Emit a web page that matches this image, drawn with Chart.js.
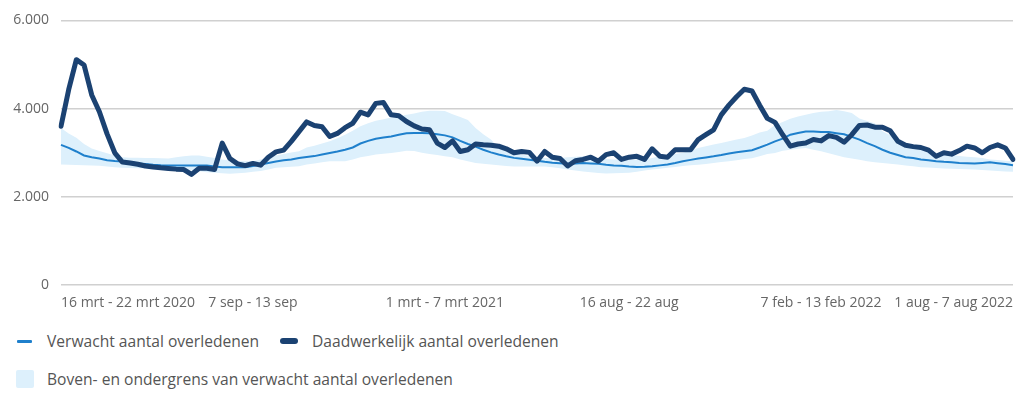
<!DOCTYPE html>
<html lang="nl">
<head>
<meta charset="utf-8">
<title>Sterfte per week</title>
<script src="https://cdn.jsdelivr.net/npm/chart.js@4.4.1/dist/chart.umd.min.js"></script>
<style>
  html, body { margin: 0; padding: 0; background: #fff; }
  body { width: 1024px; height: 402px; position: relative; overflow: hidden; font-family: "Open Sans", "Noto Sans", sans-serif; }
  #wrap { position: absolute; left: 0; top: 0; width: 1024px; height: 320px; }
  .legend { position: absolute; left: 0; color: #555; font-size: 15.6px; line-height: 20px; white-space: nowrap; }
  .legend span { position: absolute; }
  .mark { display: block; }
</style>
</head>
<body>
<div id="wrap"><canvas id="chart"></canvas></div>
<div id="legend"></div>

<script>
// --------------------------
// data (weken 16 mrt 2020 t/m 1 aug 2022)
// --------------------------
const monthNames = ['jan', 'feb', 'mrt', 'apr', 'mei', 'jun', 'jul', 'aug', 'sep', 'okt', 'nov', 'dec'];

// categorieen: één label per week
const weeks = [];
for (let i = 0; i < 125; i++) {
  const a = new Date(2020, 2, 16 + i * 7);
  const b = new Date(2020, 2, 22 + i * 7);
  weeks.push(`${a.getDate()} ${monthNames[a.getMonth()]} - ${b.getDate()} ${monthNames[b.getMonth()]} ${b.getFullYear()}`);
}

// labels die op de x-as staan
const tickIndex = [0, 25, 50, 74, 99, 124];
const tickText = ['16 mrt - 22 mrt 2020', '7 sep - 13 sep', '1 mrt - 7 mrt 2021', '16 aug - 22 aug', '7 feb - 13 feb 2022', '1 aug - 7 aug 2022'];

const yTicks = [0, 2000, 4000, 6000];

const actual = [
  3600, 4430, 5110, 4990, 4310, 3930, 3430, 3000, 2790, 2770,
  2740, 2700, 2680, 2660, 2645, 2630, 2620, 2510, 2650, 2650,
  2620, 3220, 2870, 2750, 2710, 2760, 2720, 2900, 3020, 3060,
  3260, 3480, 3700, 3620, 3590, 3370, 3440, 3570, 3670, 3920,
  3860, 4120, 4140, 3860, 3840, 3710, 3610, 3540, 3520, 3220,
  3120, 3270, 3030, 3070, 3200, 3180, 3170, 3150, 3090, 3000,
  3030, 3010, 2810, 3030, 2900, 2870, 2700, 2820, 2850, 2900,
  2810, 2960, 3000, 2850, 2900, 2920, 2850, 3090, 2920, 2900,
  3070, 3070, 3070, 3300, 3410, 3520, 3860, 4080, 4270, 4440,
  4400, 4080, 3780, 3690, 3410, 3150, 3200, 3220, 3300, 3270,
  3390, 3350, 3240, 3410, 3620, 3630, 3580, 3580, 3500, 3260,
  3170, 3140, 3120, 3060, 2920, 3000, 2970, 3050, 3150, 3110,
  3000, 3120, 3180, 3110, 2850
];

const expected = [
  3180, 3110, 3030, 2940, 2900, 2870, 2830, 2815, 2805, 2790,
  2760, 2745, 2730, 2720, 2715, 2712, 2710, 2710, 2710, 2710,
  2690, 2675, 2672, 2672, 2675, 2700, 2735, 2770, 2805, 2830,
  2850, 2880, 2905, 2925, 2960, 2995, 3030, 3070, 3120, 3210,
  3270, 3320, 3345, 3370, 3410, 3445, 3450, 3450, 3445, 3420,
  3395, 3350, 3270, 3200, 3140, 3070, 3010, 2960, 2920, 2885,
  2865, 2845, 2820, 2795, 2775, 2765, 2750, 2760, 2770, 2760,
  2750, 2730, 2715, 2705, 2690, 2680, 2685, 2695, 2715, 2735,
  2770, 2810, 2840, 2870, 2895, 2920, 2950, 2985, 3010, 3035,
  3060, 3120, 3185, 3260, 3320, 3410, 3450, 3485, 3480, 3470,
  3470, 3445, 3420, 3360, 3300, 3220, 3150, 3070, 3000, 2950,
  2900, 2880, 2850, 2830, 2810, 2795, 2785, 2770, 2765, 2755,
  2770, 2785, 2765, 2745, 2720
];

const upper = [
  3560, 3440, 3340, 3200, 3100, 3040, 2990, 2940, 2900, 2890,
  2890, 2885, 2885, 2878, 2870, 2900, 2920, 2940, 2940, 2910,
  2885, 2850, 2825, 2815, 2810, 2810, 2850, 2900, 2940, 2975,
  3005, 3035, 3120, 3160, 3210, 3260, 3330, 3410, 3500, 3600,
  3670, 3725, 3760, 3800, 3830, 3860, 3890, 3930, 3950, 3950,
  3945, 3875, 3810, 3745, 3560, 3420, 3300, 3110, 3050, 3000,
  2960, 2930, 2900, 2885, 2870, 2885, 2900, 2910, 2920, 2895,
  2870, 2860, 2850, 2846, 2846, 2846, 2846, 2880, 2920, 2950,
  2975, 3000, 3050, 3110, 3150, 3190, 3220, 3260, 3300, 3335,
  3390, 3460, 3500, 3630, 3700, 3770, 3820, 3860, 3900, 3930,
  3940, 3970, 3940, 3900, 3780, 3720, 3670, 3490, 3400, 3300,
  3220, 3150, 3090, 3035, 3000, 2965, 2945, 2925, 2910, 2900,
  2880, 2850, 2835, 2820, 2810
];

const lower = [
  2735, 2730, 2725, 2720, 2715, 2705, 2690, 2670, 2660, 2655,
  2650, 2648, 2644, 2635, 2630, 2625, 2622, 2600, 2580, 2560,
  2546, 2535, 2524, 2535, 2550, 2568, 2590, 2620, 2659, 2670,
  2685, 2696, 2734, 2760, 2785, 2809, 2809, 2809, 2850, 2899,
  2930, 2959, 2980, 2995, 3020, 3049, 3040, 3000, 2973, 2950,
  2921, 2900, 2846, 2810, 2771, 2750, 2734, 2720, 2700, 2690,
  2690, 2690, 2690, 2690, 2674, 2650, 2622, 2600, 2575, 2561,
  2545, 2532, 2535, 2540, 2546, 2570, 2600, 2622, 2640, 2659,
  2680, 2700, 2719, 2730, 2749, 2770, 2790, 2809, 2830, 2860,
  2875, 2920, 2973, 2995, 3049, 3070, 3090, 3108, 3070, 3033,
  2990, 2943, 2900, 2869, 2840, 2810, 2786, 2770, 2750, 2734,
  2715, 2695, 2674, 2665, 2655, 2644, 2640, 2632, 2628, 2622,
  2610, 2598, 2585, 2575, 2568
];

const colActual = '#1b4272';
const colExpected = '#1f80cc';
const colBand = '#ddf0fc';

// --------------------------
// grafiek
// --------------------------
function fmt(v) {
  return String(v).replace(/\B(?=(\d{3})+(?!\d))/g, '.');
}

const ctx = document.getElementById('chart').getContext('2d');
const chart = new Chart(ctx, {
  type: 'line',
  data: {
    labels: weeks,
    datasets: [
      {
        label: 'Daadwerkelijk aantal overledenen',
        data: actual,
        borderColor: colActual,
        borderWidth: 5,
        borderJoinStyle: 'round',
        borderCapStyle: 'round',
        pointRadius: 0,
        tension: 0,
        fill: false
      },
      {
        label: 'Verwacht aantal overledenen',
        data: expected,
        borderColor: colExpected,
        borderWidth: 2,
        pointRadius: 0,
        tension: 0,
        fill: false
      },
      {
        label: 'Bovengrens',
        data: upper,
        borderWidth: 0,
        borderColor: 'rgba(0,0,0,0)',
        pointRadius: 0,
        tension: 0,
        fill: false
      },
      {
        label: 'Boven- en ondergrens van verwacht aantal overledenen',
        data: lower,
        borderWidth: 0,
        borderColor: 'rgba(0,0,0,0)',
        backgroundColor: colBand,
        pointRadius: 0,
        tension: 0,
        fill: '-1'
      }
    ]
  },
  options: {
    responsive: true,
    maintainAspectRatio: false,
    animation: false,
    layout: { padding: { left: 0, right: 11, top: 16, bottom: 0 } },
    plugins: {
      legend: { display: false },
      tooltip: { enabled: false }
    },
    scales: {
      x: {
        grid: { display: false, drawTicks: false },
        border: { display: false },
        afterBuildTicks: axis => { axis.ticks = tickIndex.map(v => ({ value: v })); },
        ticks: {
          autoSkip: false,
          maxRotation: 0,
          align: 'inner',
          padding: 9,
          color: '#666',
          font: { family: '"Open Sans", "Noto Sans", sans-serif', size: 14 },
          callback: v => tickText[tickIndex.indexOf(v)]
        }
      },
      y: {
        min: 0,
        max: 6000,
        afterBuildTicks: axis => { axis.ticks = yTicks.map(v => ({ value: v })); },
        afterFit: axis => { axis.width = 61; },
        grid: { color: '#d0d0d0', lineWidth: 1.5, drawTicks: false },
        border: { display: false },
        ticks: {
          padding: 12,
          color: '#666',
          font: { family: '"Open Sans", "Noto Sans", sans-serif', size: 14 },
          callback: v => fmt(v)
        }
      }
    }
  }
});

// --------------------------
// legenda
// --------------------------
const legendItems = [
  { text: 'Verwacht aantal overledenen', x: 47, y: 341, mark: { x: 17, w: 15, h: 3, r: 1, c: colExpected } },
  { text: 'Daadwerkelijk aantal overledenen', x: 312, y: 341, mark: { x: 280, w: 18, h: 6, r: 3, c: colActual } },
  { text: 'Boven- en ondergrens van verwacht aantal overledenen', x: 47, y: 379, mark: { x: 16, w: 18, h: 18, r: 2, c: colBand } }
];

const legendDiv = document.getElementById('legend');
legendItems.forEach(item => {
  const row = document.createElement('div');
  row.className = 'legend';
  row.style.top = (item.y - 10) + 'px';
  const m = document.createElement('span');
  m.className = 'mark';
  m.style.left = item.mark.x + 'px';
  m.style.top = (10 - item.mark.h / 2) + 'px';
  m.style.width = item.mark.w + 'px';
  m.style.height = item.mark.h + 'px';
  m.style.borderRadius = item.mark.r + 'px';
  m.style.background = item.mark.c;
  const t = document.createElement('span');
  t.style.left = item.x + 'px';
  t.style.top = '0px';
  t.textContent = item.text;
  row.appendChild(m);
  row.appendChild(t);
  legendDiv.appendChild(row);
});
</script>
</body>
</html>
